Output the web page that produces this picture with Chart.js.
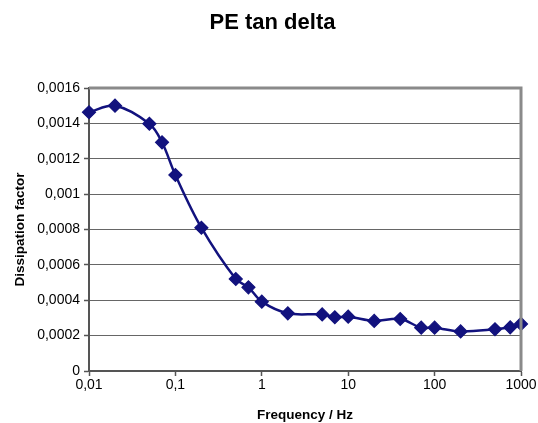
<!DOCTYPE html>
<html>
<head>
<meta charset="utf-8">
<script src="https://cdn.jsdelivr.net/npm/chart.js@4.4.1/dist/chart.umd.min.js"></script>
<style>
  html, body { margin: 0; padding: 0; background: #ffffff; }
  #wrap { width: 538px; height: 423px; position: relative; }
</style>
</head>
<body>
<div id="wrap"><canvas id="c" width="538" height="423"></canvas></div>
<script>
// ---- data ----
const chartTitle = 'PE tan delta';
const xAxisTitle = 'Frequency / Hz';
const yAxisTitle = 'Dissipation factor';
const frequency = [0.01, 0.02, 0.05, 0.07, 0.1, 0.2, 0.5, 0.7, 1, 2, 5, 7, 10, 20, 40, 70, 100, 200, 500, 750, 1000];
const tanDelta = [0.001463, 0.0015, 0.001398, 0.001293, 0.001108, 0.00081, 0.00052, 0.000473, 0.000392, 0.000326,
                  0.00032, 0.000304, 0.000307, 0.000283, 0.000294, 0.000245, 0.000245, 0.000224, 0.000236, 0.000247, 0.000266];
const xTickValues = [0.01, 0.1, 1, 10, 100, 1000];
const xTickLabels = ['0,01', '0,1', '1', '10', '100', '1000'];
const yTickValues = [0, 0.0002, 0.0004, 0.0006, 0.0008, 0.001, 0.0012, 0.0014, 0.0016];
const yTickLabels = ['0', '0,0002', '0,0004', '0,0006', '0,0008', '0,001', '0,0012', '0,0014', '0,0016'];

const FONT = "'Liberation Sans', Arial, sans-serif";
const navy = '#12127e';

const framePlugin = {
  id: 'frame',
  afterDraw(chart) {
    const {ctx, chartArea: a} = chart;
    ctx.save();
    ctx.strokeStyle = '#8a8a8a';
    ctx.lineWidth = 3;
    ctx.beginPath();
    ctx.moveTo(a.left, a.top);
    ctx.lineTo(a.right, a.top);
    ctx.lineTo(a.right, a.bottom);
    ctx.stroke();
    ctx.restore();
  }
};

const titlePlugin = {
  id: 'topTitle',
  afterDraw(chart) {
    const ctx = chart.ctx;
    ctx.save();
    ctx.fillStyle = '#000';
    ctx.font = 'bold 22px ' + FONT;
    ctx.textAlign = 'center';
    ctx.textBaseline = 'middle';
    ctx.fillText(chartTitle, 272.5, 23);
    ctx.restore();
  }
};

new Chart(document.getElementById('c'), {
  type: 'line',
  data: {
    datasets: [{
      data: frequency.map((f, i) => ({x: f, y: tanDelta[i]})),
      borderColor: navy,
      backgroundColor: navy,
      borderWidth: 2.5,
      tension: 0.35,
      pointStyle: 'rectRot',
      pointRadius: 6.5,
      pointBorderWidth: 1.2,
      pointBackgroundColor: navy,
      pointBorderColor: navy,
      clip: false
    }]
  },
  options: {
    responsive: false,
    animation: false,
    events: [],
    layout: { padding: { top: 88, right: 17, bottom: 0, left: 0 } },
    plugins: { legend: { display: false }, tooltip: { enabled: false }, title: { display: false } },
    scales: {
      x: {
        type: 'logarithmic',
        min: 0.01,
        max: 1000,
        afterBuildTicks(scale) { scale.ticks = xTickValues.map(v => ({value: v})); },
        afterFit(scale) { scale.height = 52; },
        grid: { drawOnChartArea: false, tickColor: '#555', tickLength: 5, tickWidth: 1.5 },
        border: { color: '#555', width: 2 },
        ticks: {
          autoSkip: false, maxRotation: 0, padding: 1, color: '#000',
          font: { family: FONT, size: 14 },
          callback(v) { const i = xTickValues.findIndex(t => Math.abs(t - v) / t < 1e-6); return i >= 0 ? xTickLabels[i] : ''; }
        },
        title: { display: true, text: xAxisTitle, color: '#000', font: { family: FONT, size: 13.5, weight: 'bold' }, padding: { top: 0, bottom: 0 } }
      },
      y: {
        type: 'linear',
        min: 0,
        max: 0.0016,
        afterBuildTicks(scale) { scale.ticks = yTickValues.map(v => ({value: v})); },
        afterFit(scale) { scale.width = 89; },
        grid: { color: '#666666', lineWidth: 1, tickColor: '#555', tickLength: 5, tickWidth: 1.5 },
        border: { color: '#555', width: 2 },
        ticks: {
          autoSkip: false, padding: 4, color: '#000',
          font: { family: FONT, size: 14 },
          callback(v) { const i = yTickValues.findIndex(t => Math.abs(t - v) < 1e-9); return i >= 0 ? yTickLabels[i] : ''; }
        },
        title: { display: true, text: yAxisTitle, color: '#000', font: { family: FONT, size: 13.5, weight: 'bold' }, padding: { top: 12, bottom: 0 } }
      }
    }
  },
  plugins: [framePlugin, titlePlugin]
});
</script>
</body>
</html>
